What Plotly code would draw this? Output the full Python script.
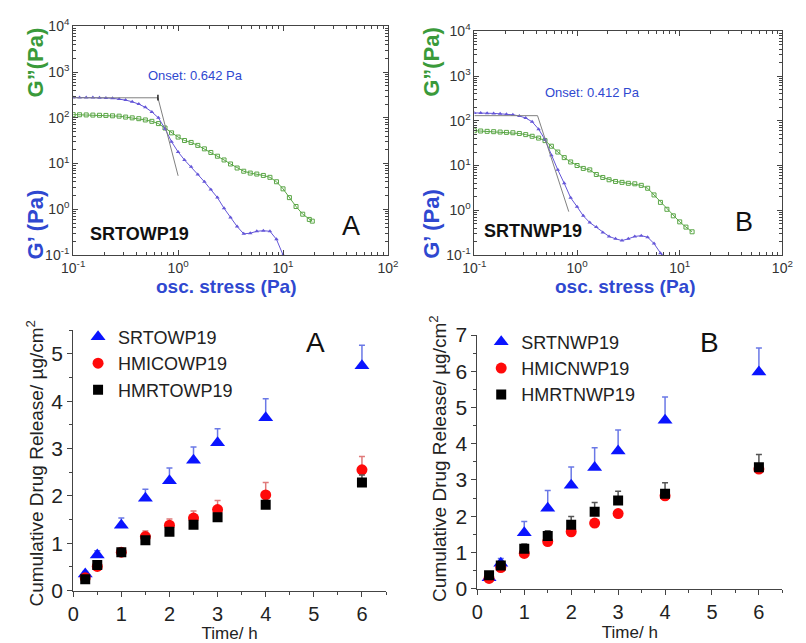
import plotly.graph_objects as go

W, H = 806, 643

# ---------------- data: rheology (top) ----------------
stress_gp_A = [0.100, 0.115, 0.133, 0.154, 0.178, 0.205, 0.237, 0.274, 0.316, 0.365, 0.422, 0.487,
               0.562, 0.649, 0.750, 0.866, 1.00, 1.15, 1.33, 1.54, 1.78, 2.05, 2.37, 2.74, 3.16,
               3.65, 4.22, 4.87, 5.62, 6.49, 7.50, 8.66, 10.0]
gp_A = [280, 280, 279, 278, 276, 273, 268, 258, 245, 225, 200, 170,
        135, 100, 58, 30, 18, 12, 8.5, 5.8, 4.0, 2.7, 1.8, 1.05, 0.66,
        0.42, 0.29, 0.30, 0.33, 0.34, 0.33, 0.22, 0.10]
stress_gpp_A = [0.100, 0.115, 0.133, 0.154, 0.178, 0.205, 0.237, 0.274, 0.316, 0.365, 0.422, 0.487,
                0.562, 0.649, 0.750, 0.866, 1.00, 1.15, 1.33, 1.54, 1.78, 2.05, 2.37, 2.74, 3.16,
                3.65, 4.22, 4.87, 5.62, 6.49, 7.50, 8.66, 10.0, 11.5, 13.3, 15.4, 17.8, 19.0]
gpp_A = [118, 117, 116, 115, 114, 113, 111, 109, 104, 100, 96, 90,
         84, 75, 60, 47, 38, 32, 29, 25, 21, 17.5, 14.5, 12, 9.8,
         8.0, 6.8, 6.2, 5.9, 5.5, 5.0, 4.0, 2.8, 1.8, 1.15, 0.78, 0.60, 0.55]

stress_gp_B = [0.100, 0.115, 0.133, 0.154, 0.178, 0.205, 0.237, 0.274, 0.316, 0.365, 0.422, 0.487,
               0.562, 0.649, 0.750, 0.866, 1.00, 1.15, 1.33, 1.54, 1.78, 2.05, 2.37, 2.74, 3.16,
               3.65, 4.22, 4.87, 5.62, 6.49, 6.80]
gp_B = [150, 150, 148, 146, 143, 140, 136, 128, 115, 95, 65, 38,
        17, 8.0, 4.0, 1.9, 1.2, 0.75, 0.53, 0.42, 0.32, 0.26, 0.23, 0.21, 0.23,
        0.26, 0.27, 0.25, 0.18, 0.11, 0.095]
stress_gpp_B = [0.100, 0.115, 0.133, 0.154, 0.178, 0.205, 0.237, 0.274, 0.316, 0.365, 0.422, 0.487,
                0.562, 0.649, 0.750, 0.866, 1.00, 1.15, 1.33, 1.54, 1.78, 2.05, 2.37, 2.74, 3.16,
                3.65, 4.22, 4.87, 5.62, 6.49, 7.50, 8.66, 10.0, 11.5, 13.2]
gpp_B = [60, 59, 58, 57, 56, 55, 54, 52, 49, 45, 41, 36,
         27, 20, 15, 12, 10, 8.6, 8.0, 6.3, 5.4, 4.8, 4.4, 4.2, 4.0,
         3.9, 3.6, 3.1, 2.2, 1.5, 1.05, 0.75, 0.55, 0.42, 0.33]

onset_A_x = [0.1, 0.642, 1.0]
onset_A_y = [275, 275, 5.4]
onset_B_x = [0.1, 0.412, 0.83]
onset_B_y = [130, 130, 0.93]

log_tickvals = [0.1, 1, 10, 100]
log_ticktext_x = ["10<sup>-1</sup>", "10<sup>0</sup>", "10<sup>1</sup>", "10<sup>2</sup>"]
log_tickvals_y = [0.1, 1, 10, 100, 1000, 10000]
log_ticktext_y = ["10<sup>-1</sup>", "10<sup>0</sup>", "10<sup>1</sup>", "10<sup>2</sup>",
                  "10<sup>3</sup>", "10<sup>4</sup>"]

# ---------------- data: release (bottom) ----------------
time_h = [0.25, 0.5, 1, 1.5, 2, 2.5, 3, 4, 6]

names_A = ["SRTOWP19", "HMICOWP19", "HMRTOWP19"]
rel_A_SR = [0.35, 0.75, 1.38, 1.95, 2.32, 2.75, 3.12, 3.65, 4.75]
err_A_SR = [0.05, 0.09, 0.15, 0.19, 0.27, 0.28, 0.30, 0.40, 0.43]
rel_A_HMIC = [0.27, 0.51, 0.81, 1.14, 1.38, 1.53, 1.71, 2.02, 2.55]
err_A_HMIC = [0.03, 0.04, 0.05, 0.12, 0.13, 0.15, 0.19, 0.26, 0.28]
rel_A_HMRT = [0.24, 0.54, 0.81, 1.06, 1.24, 1.39, 1.55, 1.81, 2.28]
err_A_HMRT = [0.02, 0.03, 0.04, 0.05, 0.06, 0.07, 0.08, 0.09, 0.16]

names_B = ["SRTNWP19", "HMICNWP19", "HMRTNWP19"]
rel_B_SR = [0.30, 0.70, 1.54, 2.22, 2.85, 3.34, 3.80, 4.65, 5.98]
err_B_SR = [0.04, 0.13, 0.31, 0.49, 0.51, 0.55, 0.58, 0.64, 0.66]
rel_B_HMIC = [0.28, 0.58, 0.97, 1.30, 1.57, 1.81, 2.07, 2.56, 3.30]
err_B_HMIC = [0.02, 0.03, 0.04, 0.05, 0.05, 0.05, 0.05, 0.06, 0.07]
rel_B_HMRT = [0.37, 0.64, 1.10, 1.45, 1.76, 2.12, 2.43, 2.62, 3.35]
err_B_HMRT = [0.03, 0.05, 0.13, 0.15, 0.23, 0.26, 0.26, 0.30, 0.35]

# ---------------- helpers ----------------
def fx(p):
    return p / W

def fy(p):
    return 1 - p / H

FONT = "Arial, Liberation Sans, sans-serif"
BLUE_G1 = "#6456d8"
GREEN_G2 = "#5aa646"
TITLE_BLUE = "#2f48d0"
TITLE_GREEN = "#3a9a3a"

fig = go.Figure()

# ---- top rheology panels ----
def rheo(xs1, ys1, xs2, ys2, ox, oy, xa, ya):
    fig.add_trace(go.Scatter(x=xs2, y=ys2, mode="lines+markers", xaxis=xa, yaxis=ya,
                             line=dict(color=GREEN_G2, width=1),
                             marker=dict(symbol="square-open", size=4, color=GREEN_G2,
                                         line=dict(width=1, color=GREEN_G2)),
                             showlegend=False))
    fig.add_trace(go.Scatter(x=xs1, y=ys1, mode="lines+markers", xaxis=xa, yaxis=ya,
                             line=dict(color=BLUE_G1, width=1),
                             marker=dict(symbol="triangle-up", size=4, color=BLUE_G1),
                             showlegend=False))
    fig.add_trace(go.Scatter(x=ox, y=oy, mode="lines", xaxis=xa, yaxis=ya,
                             line=dict(color="#808080", width=1), showlegend=False))

rheo(stress_gp_A, gp_A, stress_gpp_A, gpp_A, onset_A_x, onset_A_y, "x", "y")
rheo(stress_gp_B, gp_B, stress_gpp_B, gpp_B, onset_B_x, onset_B_y, "x2", "y2")
# small vertical mark at onset A
fig.add_trace(go.Scatter(x=[onset_A_x[1], onset_A_x[1]], y=[240, 320], mode="lines",
                         xaxis="x", yaxis="y", line=dict(color="#222", width=1.5),
                         showlegend=False))

# ---- bottom release panels ----
def release(names, sr, esr, hmic, ehmic, hmrt, ehmrt, xa, ya, leg):
    specs = [
        (names[0], sr, esr, "triangle-up", 13, "#0a14ff", "#6a78e6"),
        (names[1], hmic, ehmic, "circle", 11, "#ff0a0a", "#e07a7a"),
        (names[2], hmrt, ehmrt, "square", 10, "#000000", "#555555"),
    ]
    for nm, vals, errs, sym, sz, col, ecol in specs:
        fig.add_trace(go.Scatter(
            x=time_h, y=vals, mode="markers", name=nm, xaxis=xa, yaxis=ya, legend=leg,
            marker=dict(symbol=sym, size=sz, color=col, line=dict(width=0)),
            error_y=dict(type="data", array=errs, arrayminus=[0] * len(errs),
                         symmetric=False, color=ecol, thickness=1.5, width=3),
        ))

release(names_A, rel_A_SR, err_A_SR, rel_A_HMIC, err_A_HMIC, rel_A_HMRT, err_A_HMRT,
        "x3", "y3", "legend")
release(names_B, rel_B_SR, err_B_SR, rel_B_HMIC, err_B_HMIC, rel_B_HMRT, err_B_HMRT,
        "x4", "y4", "legend2")

# ---- axes ----
AX_COL = "#444444"
log_x_common = dict(type="log", range=[-1, 2], tickmode="array", tickvals=log_tickvals,
                    ticktext=log_ticktext_x, ticks="inside", ticklen=5, tickcolor=AX_COL,
                    showline=True, linecolor=AX_COL, linewidth=1, mirror="ticks",
                    showgrid=False, zeroline=False,
                    tickfont=dict(family=FONT, size=14, color="#333"),
                    minor=dict(ticks="inside", ticklen=3, tickcolor=AX_COL, dtick="D1"))
log_y_common = dict(type="log", range=[-1, 4], tickmode="array", tickvals=log_tickvals_y,
                    ticktext=log_ticktext_y, ticks="inside", ticklen=5, tickcolor=AX_COL,
                    showline=True, linecolor=AX_COL, linewidth=1, mirror="ticks",
                    showgrid=False, zeroline=False,
                    tickfont=dict(family=FONT, size=14, color="#333"),
                    minor=dict(ticks="inside", ticklen=3, tickcolor=AX_COL, dtick="D1"))

lin_common = dict(ticks="outside", ticklen=5, tickcolor=AX_COL, tickwidth=1,
                  showline=True, linecolor=AX_COL, linewidth=1, mirror=False,
                  showgrid=False, zeroline=False,
                  minor=dict(ticks="outside", ticklen=3, tickcolor=AX_COL, dtick=0.5))
lin_x_font = dict(family=FONT, size=20, color="#222")
lin_y_font = dict(family=FONT, size=21, color="#222")
time_title = dict(text="Time/ h", font=dict(family=FONT, size=17, color="#222"), standoff=0)

fig.update_layout(
    width=W, height=H, margin=dict(l=0, r=0, t=0, b=0),
    paper_bgcolor="white", plot_bgcolor="white",
    font=dict(family=FONT),
    xaxis=dict(domain=[fx(63), fx(387)], anchor="y", **log_x_common),
    yaxis=dict(domain=[fy(252), fy(15)], anchor="x", **log_y_common),
    xaxis2=dict(domain=[fx(476), fx(793)], anchor="y2", **log_x_common),
    yaxis2=dict(domain=[fy(252), fy(20)], anchor="x2", **log_y_common),
    xaxis3=dict(domain=[fx(63), fx(385)], anchor="y3", range=[0, 6.5], dtick=1,
                tickfont=lin_x_font, title=time_title, automargin=False, **lin_common),
    yaxis3=dict(domain=[fy(600), fy(330)], anchor="x3", range=[0, 5.5], dtick=1,
                tickfont=lin_y_font, **lin_common),
    xaxis4=dict(domain=[fx(479), fx(793)], anchor="y4", range=[0, 6.5], dtick=1,
                tickfont=lin_x_font, title=time_title, automargin=False, **lin_common),
    yaxis4=dict(domain=[fy(598), fy(335)], anchor="x4", range=[0, 7], dtick=1,
                tickfont=lin_y_font, **lin_common),
    legend=dict(x=fx(68), y=fy(318), xanchor="left", yanchor="top", bgcolor="rgba(0,0,0,0)",
                font=dict(family=FONT, size=18, color="#222"), itemwidth=30,
                tracegroupgap=0),
    legend2=dict(x=fx(483), y=fy(323), xanchor="left", yanchor="top", bgcolor="rgba(0,0,0,0)",
                 font=dict(family=FONT, size=18, color="#222"), itemwidth=30,
                 tracegroupgap=0),
    showlegend=True,
)

ann = []
def text(x, y, s, size, color, bold=False, angle=0, xanchor="center", yanchor="middle"):
    if bold:
        s = "<b>" + s + "</b>"
    ann.append(dict(x=fx(x), y=fy(y), xref="paper", yref="paper", text=s, showarrow=False,
                    font=dict(family=FONT, size=size, color=color), textangle=angle,
                    xanchor=xanchor, yanchor=yanchor))

# top-left
text(189, 66, "Onset: 0.642 Pa", 13, TITLE_BLUE)
text(131, 230, "SRTOWP19", 18, "#111", bold=True)
text(349, 222, "A", 27, "#111")
text(24, 52, "G”(Pa)", 22, TITLE_GREEN, bold=True, angle=-90)
text(24, 220, "G’ (Pa)", 22, TITLE_BLUE, bold=True, angle=-90)
text(220, 285, "osc. stress (Pa)", 19, TITLE_BLUE, bold=True)
# top-right
text(598, 83, "Onset: 0.412 Pa", 13, TITLE_BLUE)
text(536, 227, "SRTNWP19", 18, "#111", bold=True)
text(754, 218, "B", 27, "#111")
text(431, 52, "G”(Pa)", 22, TITLE_GREEN, bold=True, angle=-90)
text(431, 220, "G’ (Pa)", 22, TITLE_BLUE, bold=True, angle=-90)
text(631, 285, "osc. stress (Pa)", 19, TITLE_BLUE, bold=True)
# bottom-left
text(312, 343, "A", 28, "#111")
text(24, 468, "Cumulative Drug Release/ µg/cm<sup>2</sup>", 19, "#222", angle=-90)
# bottom-right
text(718, 343, "B", 28, "#111")
text(439, 463, "Cumulative Drug Release/ µg/cm<sup>2</sup>", 19, "#222", angle=-90)

fig.update_layout(annotations=ann)
fig.write_html("out.html")
